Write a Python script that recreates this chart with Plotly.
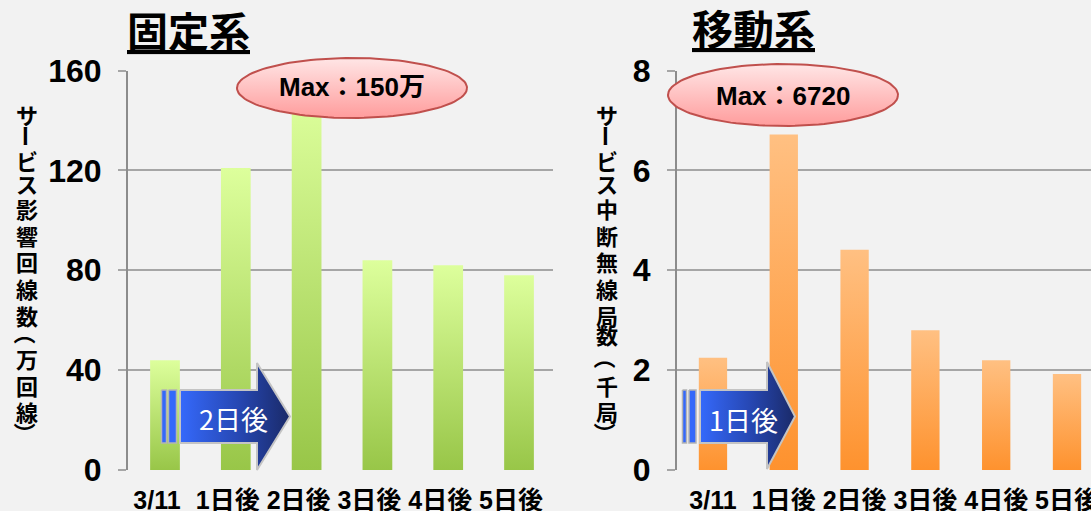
import numpy as np
import plotly.graph_objects as go

# ---------------- data ----------------
categories = ["3/11", "1日後", "2日後", "3日後", "4日後", "5日後"]
fixed_values = [44, 121, 150, 84, 82, 78]            # サービス影響回線数（万回線）
mobile_values = [2.25, 6.72, 4.41, 2.80, 2.20, 1.92]  # サービス中断無線局数（千局）
fixed_title = "固定系"
mobile_title = "移動系"
fixed_ytitle = "サービス影響回線数（万回線）"
mobile_ytitle = "サービス中断無線局数（千局）"
fixed_max_label = "Max：150万"
mobile_max_label = "Max：6720"
fixed_arrow_label = "2日後"
mobile_arrow_label = "1日後"

# ---------------- styling ----------------
W, H = 1091, 511
FONT = "Liberation Sans, Noto Sans CJK JP, sans-serif"
CJK = "Noto Sans CJK JP, sans-serif"
BG = "#f2f2f2"
GRID = "#a6a6a6"

fig = go.Figure()


def add_bars(values, xa, ya, top, bottom, width):
    for i, v in enumerate(values):
        xs = [i - width / 2, i + width / 2, i + width / 2, i - width / 2, i - width / 2]
        ys = [0, 0, v, v, 0]
        fig.add_trace(go.Scatter(
            x=xs, y=ys, xaxis=xa, yaxis=ya, mode="lines",
            line=dict(width=0, color=bottom), fill="toself",
            fillgradient=dict(type="vertical", colorscale=[[0, bottom], [1, top]]),
            hoverinfo="text", text=f"{categories[i]}: {v}", showlegend=False))


add_bars(fixed_values, "x", "y", "#ddff9c", "#98c648", 0.42)
add_bars(mobile_values, "x2", "y2", "#ffc082", "#fe922e", 0.40)


# ---------------- decorations in pixel space (overlay axes x3/y3) ----------------
def poly(xs, ys, **kw):
    fig.add_trace(go.Scatter(x=xs, y=ys, xaxis="x3", yaxis="y3", mode="lines",
                             fill="toself", hoverinfo="skip", showlegend=False, **kw))


def arrow(x0, x2, xt, ytop, ybot, htop, hbot, bars):
    for bx0, bx1 in bars:
        poly([bx0, bx1, bx1, bx0, bx0], [ytop, ytop, ybot, ybot, ytop],
             line=dict(color="#b4b4b4", width=1.5), fillcolor="#3468fa")
    yc = (ytop + ybot) / 2
    xs = [x0, x2, x2, xt, x2, x2, x0, x0]
    ys = [ytop, ytop, htop, yc, hbot, ybot, ybot, ytop]
    poly(xs, ys, line=dict(color="#c4c4c4", width=2),
         fillgradient=dict(type="horizontal", colorscale=[[0, "#3569fb"], [0.55, "#2646b0"], [1, "#1a2a68"]]))


arrow(180, 257, 290, 390, 443, 363, 470, [(161.5, 166.5), (168.5, 176.5)])
arrow(700, 767, 795, 390, 443, 362, 469, [(682.5, 686.5), (689, 696)])


def ellipse(cx, cy, rx, ry):
    t = np.linspace(0, 2 * np.pi, 121)
    poly(cx + rx * np.cos(t), cy + ry * np.sin(t),
         line=dict(color="#c0504d", width=2),
         fillgradient=dict(type="vertical", start=cy - ry, stop=cy + ry,
                           colorscale=[[0, "#ffe6e6"], [1, "#ff9c9c"]]))


ellipse(352, 88, 115, 30)
ellipse(783, 95, 115, 31)

annotations = []


def label(x, y, text, size, color="black", bold=True, family=FONT, angle=0):
    annotations.append(dict(
        x=x, y=y, xref="x3", yref="y3", text=text, showarrow=False,
        xanchor="center", yanchor="middle", textangle=angle,
        font=dict(family=family, size=size, color=color,
                  weight="bold" if bold else "normal")))


label(188, 29, f"<u>{fixed_title}</u>", 41, family=CJK)
label(753, 27, f"<u>{mobile_title}</u>", 41, family=CJK)
label(352, 87, fixed_max_label, 26)
label(783, 96, mobile_max_label, 26)
label(233, 418, fixed_arrow_label, 27, color="white", bold=False, family=CJK)
label(743, 419, mobile_arrow_label, 27, color="white", bold=False, family=CJK)

# vertical (tategaki) axis titles: one upright character per line
char_offsets = [0, 22, 46, 69, 94, 121, 147, 174, 201, 219.5, 244, 271, 297, 319.5]


def vertical_title(text, x, ytop):
    for ch, dy in zip(text, char_offsets):
        rot = 90 if ch in "ー（）" else 0
        label(x, ytop + dy, ch, 22, family=CJK, angle=rot)


vertical_title(fixed_ytitle, 27, 114)
vertical_title(mobile_ytitle, 607, 114)

# ---------------- layout ----------------
ydom = [1 - 470 / H, 1 - 70.5 / H]
common_y = dict(showgrid=True, gridcolor=GRID, gridwidth=1.5, zeroline=False,
                ticks="outside", ticklen=8, tickcolor=GRID, tickwidth=1.5,
                showline=True, linecolor="#8c8c8c", linewidth=2,
                tickfont=dict(family=FONT, size=32, color="black", weight="bold"),
                ticklabelstandoff=10, fixedrange=True, domain=ydom, automargin=False)
common_x = dict(showgrid=False, zeroline=False, showline=False, ticks="",
                tickvals=list(range(len(categories))), ticktext=categories,
                tickfont=dict(family=FONT, size=25, color="black", weight="bold"),
                ticklabelstandoff=13, fixedrange=True, automargin=False,
                ticklabeloverflow="allow")

fig.update_layout(
    width=W, height=H, margin=dict(l=0, r=0, t=0, b=0, pad=0),
    paper_bgcolor=BG, plot_bgcolor="rgba(0,0,0,0)", showlegend=False,
    xaxis=dict(domain=[128 / W, 553 / W], range=[-0.5226, 5.48], anchor="y",
               ticklabelshift=-8, **common_x),
    yaxis=dict(range=[0, 160], tick0=0, dtick=40, anchor="x", **common_y),
    xaxis2=dict(domain=[677 / W, 1.0], range=[-0.508, 5.339], anchor="y2", **common_x),
    yaxis2=dict(range=[0, 8], tick0=0, dtick=2, anchor="x2", **common_y),
    xaxis3=dict(domain=[0, 1], range=[0, W], visible=False, fixedrange=True,
                anchor="y3", automargin=False),
    yaxis3=dict(domain=[0, 1], range=[H, 0], visible=False, fixedrange=True,
                anchor="x3", automargin=False),
    annotations=annotations,
)

fig.write_html(
    "out.html",
    config={"displayModeBar": False},
    post_script="document.body.style.margin='0px';document.body.style.overflow='hidden';",
)
